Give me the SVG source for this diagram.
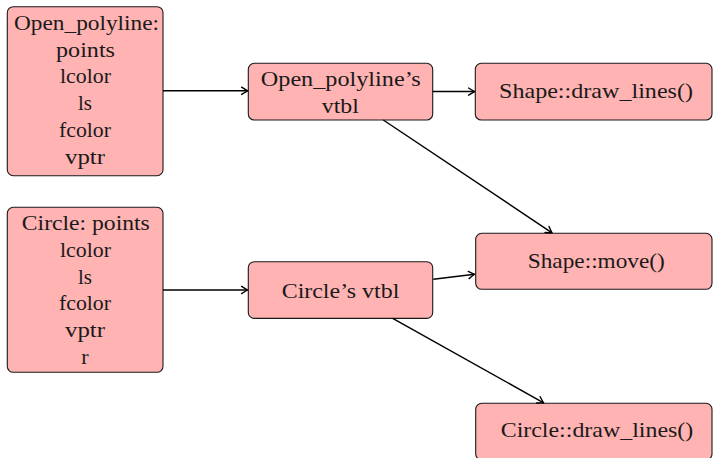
<svg xmlns="http://www.w3.org/2000/svg" width="713" height="458" viewBox="0 0 713 458" font-family="Liberation Serif, Times New Roman, DejaVu Serif, serif">
  <defs>
    <style>
      .box { fill: #ffb3b3; stroke: #1a1a1a; stroke-width: 1.1; }
      .lbl { font-size: 22px; fill: #1a1a1a; text-anchor: middle; }
      .edge { fill: none; stroke: #000; stroke-width: 1.5; marker-end: url(#tip); }
    </style>
    <marker id="tip" viewBox="-8 -5 10 10" refX="0" refY="0" markerWidth="10" markerHeight="10" markerUnits="userSpaceOnUse" orient="auto">
      <path d="M-6,-3.6 Q-2.2,-1.2 0,0 Q-2.2,1.2 -6,3.6" fill="none" stroke="#000" stroke-width="1.4" stroke-linecap="round" stroke-linejoin="round"/>
    </marker>
  </defs>

  <!-- object layouts -->
  <g id="open_polyline">
    <rect class="box" x="7.3" y="6.7" width="155.7" height="169" rx="6"/>
    <text class="lbl" x="86.5" y="29.8" textLength="145" lengthAdjust="spacingAndGlyphs">Open_polyline:</text>
    <text class="lbl" x="85.5" y="56.6" textLength="59" lengthAdjust="spacingAndGlyphs">points</text>
    <text class="lbl" x="85.5" y="83.4" textLength="51" lengthAdjust="spacingAndGlyphs">lcolor</text>
    <text class="lbl" x="85" y="110.2" textLength="14" lengthAdjust="spacingAndGlyphs">ls</text>
    <text class="lbl" x="85" y="137" textLength="52" lengthAdjust="spacingAndGlyphs">fcolor</text>
    <text class="lbl" x="85" y="163.8" textLength="40" lengthAdjust="spacingAndGlyphs">vptr</text>
  </g>

  <g id="circle">
    <rect class="box" x="7.3" y="207.3" width="155.7" height="165" rx="6"/>
    <text class="lbl" x="85.8" y="230" textLength="128" lengthAdjust="spacingAndGlyphs">Circle: points</text>
    <text class="lbl" x="85.5" y="256.8" textLength="51" lengthAdjust="spacingAndGlyphs">lcolor</text>
    <text class="lbl" x="85" y="283.6" textLength="14" lengthAdjust="spacingAndGlyphs">ls</text>
    <text class="lbl" x="85" y="310.4" textLength="52" lengthAdjust="spacingAndGlyphs">fcolor</text>
    <text class="lbl" x="85" y="337.2" textLength="40" lengthAdjust="spacingAndGlyphs">vptr</text>
    <text class="lbl" x="85" y="364">r</text>
  </g>

  <!-- virtual tables -->
  <g id="open_polyline_vtbl">
    <rect class="box" x="248.3" y="63.3" width="184.4" height="56.7" rx="6"/>
    <text class="lbl" x="340.8" y="85.5" textLength="160" lengthAdjust="spacingAndGlyphs">Open_polyline’s</text>
    <text class="lbl" x="340.3" y="113.2" textLength="37" lengthAdjust="spacingAndGlyphs">vtbl</text>
  </g>

  <g id="circle_vtbl">
    <rect class="box" x="248.3" y="261.7" width="184.4" height="56.7" rx="6"/>
    <text class="lbl" x="340.5" y="298.4" textLength="117.6" lengthAdjust="spacingAndGlyphs">Circle’s vtbl</text>
  </g>

  <!-- functions -->
  <g id="shape_draw_lines">
    <rect class="box" x="475.3" y="63.3" width="236.7" height="56.7" rx="6"/>
    <text class="lbl" x="596" y="98.4" textLength="194" lengthAdjust="spacingAndGlyphs">Shape::draw_lines()</text>
  </g>

  <g id="shape_move">
    <rect class="box" x="475.7" y="233.3" width="236.3" height="56" rx="6"/>
    <text class="lbl" x="596.3" y="268.4" textLength="137" lengthAdjust="spacingAndGlyphs">Shape::move()</text>
  </g>

  <g id="circle_draw_lines">
    <rect class="box" x="475.7" y="403.3" width="236.3" height="56.7" rx="6"/>
    <text class="lbl" x="597" y="436.6" textLength="192.6" lengthAdjust="spacingAndGlyphs">Circle::draw_lines()</text>
  </g>

  <!-- pointers -->
  <g id="connectors">
    <path class="edge" d="M163,90.8 L247.6,90.8"/>
    <path class="edge" d="M432.7,91.6 L474.6,91.6"/>
    <path class="edge" d="M383.3,120 L552,232.8"/>
    <path class="edge" d="M163,290 L247.6,290"/>
    <path class="edge" d="M433.3,279.2 L474.6,274.3"/>
    <path class="edge" d="M392.7,318.3 L543.6,402.8"/>
  </g>
</svg>
